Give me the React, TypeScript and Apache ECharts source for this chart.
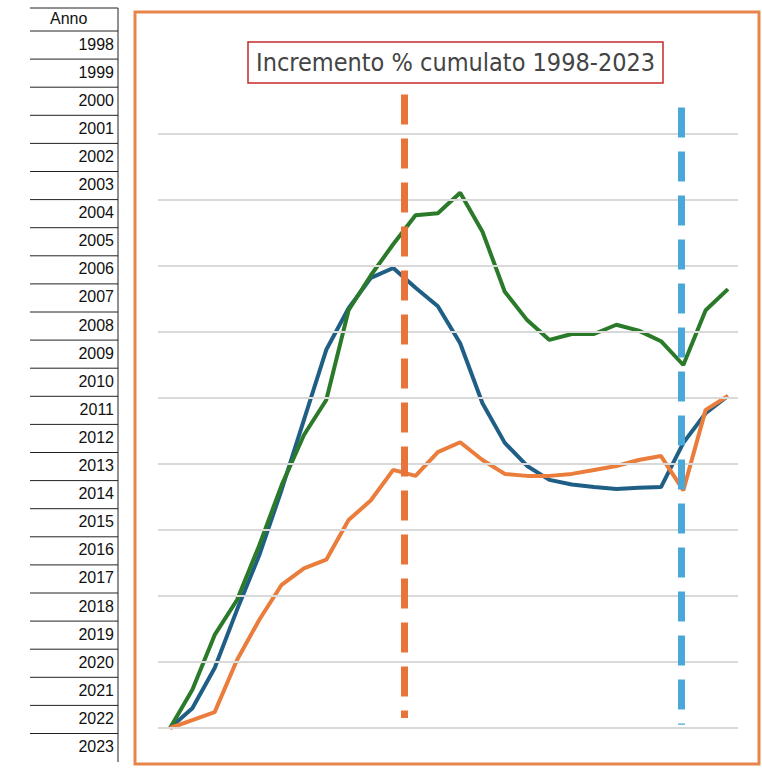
import { useEffect, useRef } from "react";
import * as echarts from "echarts";

const years = ["1998","1999","2000","2001","2002","2003","2004","2005","2006","2007","2008","2009","2010","2011","2012","2013","2014","2015","2016","2017","2018","2019","2020","2021","2022","2023"];
const blue = [0, 3, 9.1, 17.9, 26.2, 36.1, 46.7, 57.3, 63.6, 68.2, 69.7, 66.7, 63.9, 58.3, 49.2, 43.2, 39.7, 37.6, 36.9, 36.5, 36.2, 36.4, 36.5, 43.2, 47.7, 50.3];
const green = [0, 5.8, 14.1, 19.4, 27.7, 36.8, 44.4, 49.7, 63.3, 68.6, 73.3, 77.7, 78, 81.1, 75.2, 66.1, 61.8, 58.8, 59.7, 59.7, 61.1, 60.2, 58.6, 55, 63.3, 66.5];
const orange = [0, 1.2, 2.4, 10.3, 16.4, 21.7, 24.2, 25.5, 31.5, 34.5, 39.1, 38.2, 41.8, 43.3, 40.6, 38.5, 38.2, 38.2, 38.5, 39.1, 39.7, 40.6, 41.2, 36, 48.2, 50.3];
const gridTicks = [0, 10, 20, 30, 40, 50, 60, 70, 80, 90];
const title = "Incremento % cumulato 1998-2023";

export default function App() {
  const ref = useRef<HTMLDivElement>(null);
  useEffect(() => {
    if (!ref.current) return;
    const chart = echarts.init(ref.current, null, { renderer: "svg" });
    const rowH = 28.1;
    const table: any[] = [
      { type: "line", shape: { x1: 30, y1: 8, x2: 118, y2: 8 }, style: { stroke: "#222", lineWidth: 1 } },
      { type: "line", shape: { x1: 118, y1: 8, x2: 118, y2: 762 }, style: { stroke: "#222", lineWidth: 1 } },
      { type: "text", x: 50, y: 10, style: { text: "Anno", font: "16px 'Liberation Sans'", fill: "#111" } },
    ];
    years.forEach((yr, i) => {
      const top = 31 + rowH * i;
      table.push({ type: "line", shape: { x1: 30, y1: top, x2: 118, y2: top }, style: { stroke: "#222", lineWidth: 1 } });
      table.push({ type: "text", x: 114, y: top + 5, style: { text: yr, font: "16px 'Liberation Sans'", fill: "#111", align: "right" } });
    });
    const line = (data: number[], color: string) => ({
      type: "line", data: data.map((v, i) => [i, v]), symbol: "none",
      lineStyle: { color, width: 4 }, itemStyle: { color },
    });
    chart.setOption({
      animation: false,
      title: {
        text: title, left: 248, top: 42, padding: [8, 8],
        borderColor: "#c62828", borderWidth: 1.5,
        textStyle: { fontFamily: "DejaVu Sans Condensed", fontSize: 25, fontWeight: "normal", color: "#444" },
      },
      graphic: [
        ...table,
        { type: "rect", shape: { x: 135, y: 12, width: 624, height: 752 }, style: { fill: "none", stroke: "#e8834a", lineWidth: 3 } },
      ],
      grid: { left: 158, right: 24, top: 68, bottom: 55 },
      xAxis: { type: "value", min: -0.54, max: 25.45, show: false },
      yAxis: { type: "value", min: 0, max: 100, show: false, splitLine: { show: false } },
      series: [
        {
          type: "line", data: [], silent: true,
          markLine: {
            symbol: "none", silent: true, label: { show: false },
            lineStyle: { color: "#d9d9d9", width: 2, type: "solid" },
            data: gridTicks.map((t) => ({ yAxis: t })),
          },
        },
        line(blue, "#1f5f85"),
        line(green, "#2a7a2a"),
        line(orange, "#eb7d3c"),
        {
          type: "line", data: [], silent: true,
          markLine: {
            symbol: "none", silent: true, label: { show: false },
            data: [
              [{ coord: [10.5, 96], lineStyle: { color: "#e8743b", width: 7, type: [30, 14] } }, { coord: [10.5, 1.5] }],
              [{ coord: [22.9, 94], lineStyle: { color: "#4aa8d8", width: 7, type: [30, 14] } }, { coord: [22.9, 0.5] }],
            ],
          },
        },
      ],
    });
    return () => chart.dispose();
  }, []);
  return <div ref={ref} style={{ position: "fixed", left: 0, top: 0, width: 762, height: 783, background: "#fff" }} />;
}
